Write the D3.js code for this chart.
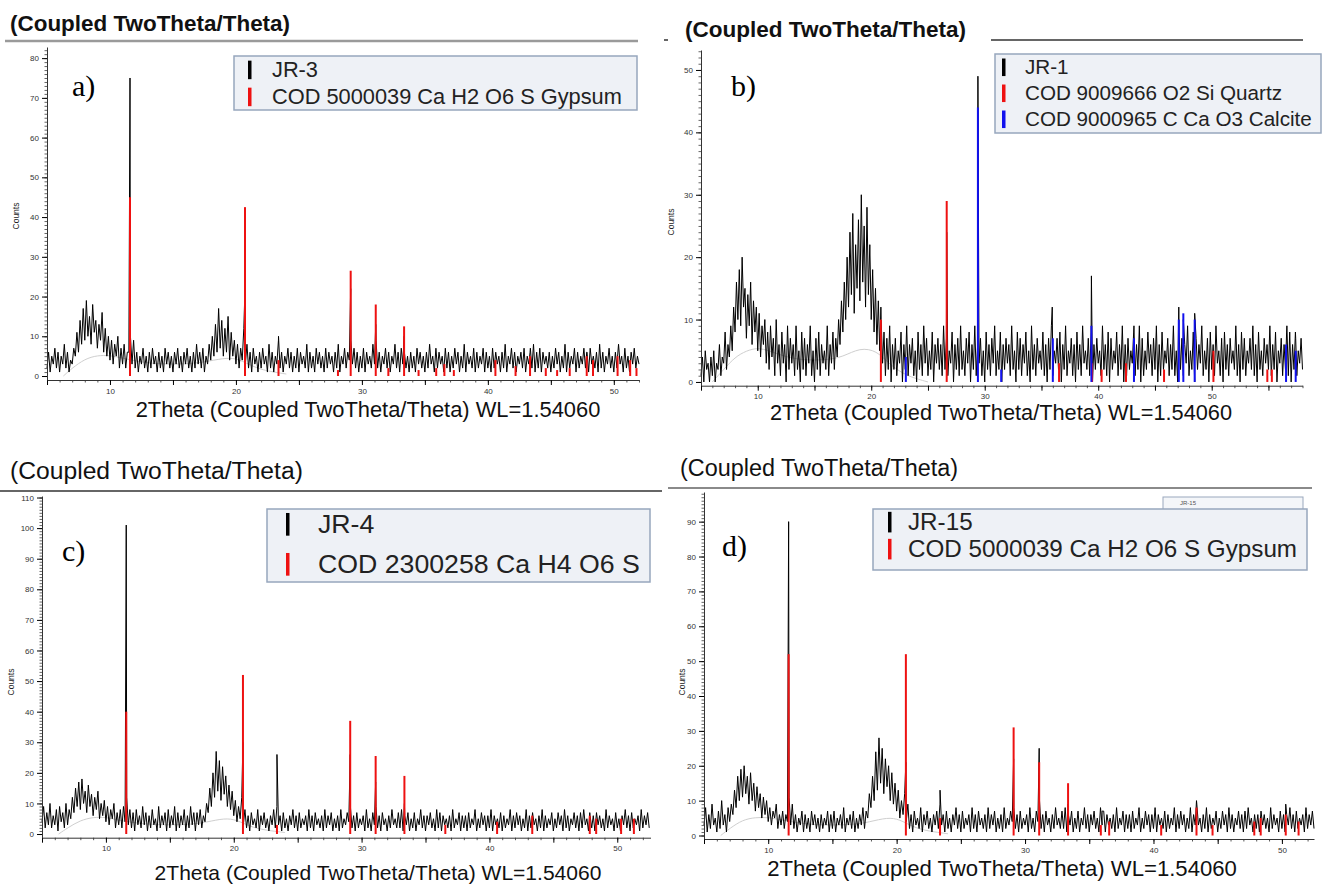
<!DOCTYPE html>
<html>
<head>
<meta charset="utf-8">
<script src="https://cdn.jsdelivr.net/npm/d3@7"></script>
<style>
body { margin: 0; background: #fff; }
svg { display: block; font-family: "Liberation Sans", Arial, sans-serif; }
</style>
</head>
<body>
<svg width="1329" height="886"></svg>
<script>
// step of the measured profiles (degrees 2theta); each row below is one degree
const step = 0.125;

// JR-3 measured counts, 5.000 .. 52.000
const jr3Counts = [
  2,6,1,5,3,7,2,6, 1,5,3,8,2,6,1,4, 3,7,5,11,6,14,8,17, 9,19,10,15,8,18,11,14,
  7,13,9,16,6,12,5,10, 4,9,3,8,5,10,2,7, 3,8,2,6,6,10,3,9, 2,6,1,5,3,7,2,5,
  1,6,2,7,3,5,1,6, 2,5,1,7,3,6,2,5, 1,6,3,7,2,5,1,6, 3,7,2,5,1,6,2,8,
  3,6,2,7,1,5,3,8, 4,10,5,13,6,17,7,14, 5,12,6,15,4,11,5,9, 3,8,2,7,4,12,3,8,
  2,6,1,7,3,5,1,6, 2,7,3,5,1,8,2,6, 1,5,3,9,2,6,1,5, 3,7,2,6,1,5,2,7,
  1,6,3,5,2,8,1,6, 2,5,1,7,3,6,2,5, 1,7,2,6,3,5,1,6, 2,8,1,5,3,7,2,6,
  4,9,3,7,2,6,1,5, 2,7,1,6,3,5,2,8, 3,9,2,6,1,5,3,7, 2,6,1,5,3,8,2,6,
  1,7,3,6,2,5,1,6, 2,5,1,7,3,6,2,5, 1,6,2,8,3,5,1,7, 2,6,3,5,1,7,2,6,
  1,5,2,7,3,6,1,5, 2,8,1,6,3,5,2,7, 1,6,2,5,3,7,1,6, 2,5,1,7,2,6,3,5,
  1,6,2,8,1,5,3,7, 2,6,1,5,3,6,2,7, 1,5,3,7,2,8,1,6, 2,7,1,6,3,5,2,6,
  1,5,2,7,3,6,1,5, 2,8,1,6,2,5,3,7, 1,6,2,5,3,7,2,6, 1,7,3,5,2,6,1,8,
  2,6,1,5,3,7,2,5, 1,6,2,8,3,5,1,7, 2,5,1,6,3,7,2,5, 3
];
const jr3Peaks = [[11.59,75],[20.72,22],[23.38,10],[29.11,22],[31.1,13],[33.35,10],[43.35,6],[47.85,6],[50.3,5]];
const gypsumA = [[11.59,45],[20.72,42.5],[23.38,4],[28.1,1.5],[29.11,26.5],[31.1,18],[32.1,2],[33.35,12.5],[34.5,1.5],
  [35.9,2],[36.55,3],[37.3,1.5],[40.6,4],[42.2,2.5],[43.35,5],[44.6,2],[45.5,1.5],[46.5,2],[47.85,5],[48.35,4],[50.3,5],[51.3,4],[51.8,2]];
const amorphA = [[6.3,0],[7,2],[8,4.3],[9,5.2],[10,5.2],[11,4.5],[12.5,3.5],[14,3],[16,3],[17.5,3.5],[19,4.5],[20,4.5],[21,3],[22,1.5],[24,0.5]];

// JR-1 measured counts, 5.000 .. 58.000
const jr1Counts = [
  1,4,0,5,2,3,0,4, 1,5,0,3,2,6,1,4, 3,8,2,6,4,9,5,12, 8,16,10,18,9,20,12,15,
  7,14,9,16,6,13,8,12, 5,11,4,9,6,10,3,8, 2,9,4,7,1,10,3,6, 1,8,3,6,0,9,2,7,
  3,6,1,9,2,5,0,8, 2,7,1,6,3,9,1,5, 0,7,2,8,1,6,3,5, 2,9,1,6,3,8,2,7,
  4,10,6,13,8,16,10,20, 12,24,14,27,11,22,15,26, 13,30,16,25,12,28,14,22, 10,18,8,15,6,13,5,10,
  3,8,1,7,2,9,0,6, 2,7,1,5,3,8,0,6, 2,9,1,6,3,7,1,5, 0,8,2,6,1,9,3,7,
  1,5,2,8,0,6,3,7, 2,6,1,9,2,7,1,5, 3,8,0,6,2,7,1,9, 2,5,1,7,3,8,0,6,
  2,9,1,6,3,7,1,5, 0,8,2,6,1,7,3,9, 1,5,2,8,0,6,2,7, 3,6,1,9,2,5,0,8,
  2,7,1,6,3,8,1,5, 0,9,2,6,1,7,3,5, 2,8,1,6,0,7,2,9, 1,5,3,7,2,8,0,6,
  2,9,1,5,3,7,1,6, 0,8,2,6,1,9,3,5, 2,7,1,8,0,6,2,7, 3,5,1,9,2,6,1,8,
  0,7,2,5,3,8,1,6, 2,9,0,6,1,7,2,5, 3,8,1,6,2,9,0,7, 1,5,2,8,3,6,1,7,
  2,9,0,6,1,8,2,5, 3,7,1,6,2,9,1,5, 0,8,2,7,1,6,3,9, 1,5,2,8,0,7,2,6,
  3,9,1,5,2,7,0,8, 2,6,1,9,3,5,1,7, 0,8,2,6,1,7,3,5, 2,9,1,6,0,8,2,7,
  1,5,3,7,2,9,1,6, 0,8,2,5,1,7,3,6, 2,9,1,6,2,8,0,5, 3,7,1,6,2,9,1,8,
  0,6,2,8,1,5,3,7, 2
];
const jr1Peaks = [[20.85,12],[26.65,24],[29.4,49],[35.95,12],[39.4,17],[43.15,9],[47.1,12],[47.5,10],[48.5,11],[56.6,8],[57.4,7]];
const quartzB = [[20.85,10],[26.65,29],[36.55,3],[39.45,3],[40.3,2],[42.45,3],[45.8,2],[50.15,5],[54.9,2],[55.3,2]];
const calciteB = [[23.05,4],[29.4,44],[31.45,2],[36.0,7],[39.4,9],[43.15,7],[47.1,10],[47.5,11],[48.5,10],[56.55,6],[57.4,5]];
const amorphB = [[6,0],[7,2],[8,4],[9,5],[10,5.5],[11,5],[12.5,4],[14,3.5],[16,3.5],[17.5,4],[19,5.5],[20.5,5],[21.5,3],[23,1],[25,0]];

// JR-4 measured counts, 5.000 .. 52.500
const jr4Counts = [
  4,9,2,7,3,10,2,6, 3,8,1,9,4,7,2,10, 3,8,5,12,7,15,9,17, 8,18,10,14,7,16,9,13,
  6,12,8,14,5,10,6,11, 4,9,3,8,5,10,2,7, 3,8,2,9,4,12,3,8, 2,7,1,8,3,6,2,9,
  3,7,1,6,2,8,3,5, 1,9,2,6,3,7,1,8, 2,6,3,9,1,7,2,6, 3,8,1,6,2,9,3,7,
  1,7,3,8,2,6,4,10, 7,15,9,20,12,27,14,24, 11,22,13,19,9,16,8,14, 6,11,4,9,5,12,3,8,
  2,6,1,7,3,5,2,8, 1,6,3,7,2,5,1,6, 3,8,2,9,3,6,1,7, 2,5,1,6,3,8,2,6,
  1,7,2,5,3,6,1,8, 2,6,1,7,3,5,2,6, 1,8,2,6,3,7,1,5, 2,6,1,8,2,5,3,7,
  4,9,2,6,1,7,2,5, 3,6,1,8,2,5,1,7, 3,9,2,6,1,7,3,5, 1,6,2,8,3,5,2,7,
  2,8,1,6,3,7,1,5, 2,7,1,5,3,8,2,6, 1,6,3,7,2,5,1,8, 2,7,1,6,3,5,2,6,
  1,8,2,5,3,7,1,6, 2,6,1,7,2,5,3,8, 1,5,2,7,3,6,1,6, 2,8,1,6,3,5,2,7,
  1,6,2,5,3,8,1,6, 2,7,3,6,1,5,2,8, 1,6,2,7,3,5,1,6, 2,8,1,6,2,5,3,7,
  1,5,2,7,3,6,1,8, 2,6,1,5,3,7,2,6, 1,7,2,8,3,5,1,6, 2,6,1,7,3,6,2,5,
  1,8,2,6,3,5,1,7, 2,5,1,6,3,8,2,6, 1,7,2,5,3,6,1,8, 2,6,3,7,2
];
const jr4Peaks = [[11.59,101],[20.72,30],[23.38,26],[29.11,26],[31.1,17],[33.35,10],[43.35,6],[47.85,7]];
const bassaniteC = [[11.59,40],[20.72,52],[23.38,3],[29.11,37],[31.1,25.5],[33.35,19],[36.55,3],[40.6,4],[43.35,6],[47.85,6],[48.35,5],[50.3,5],[51.3,5]];
const amorphC = [[6.3,0],[7,2],[8,4.5],[9,5.5],[10,5.5],[11,4.5],[12.5,3.5],[14,3],[16,3],[17.5,3.5],[19,5],[20,5],[21,3],[22,1.5],[24,0.5]];

// JR-15 measured counts, 5.000 .. 52.500
const jr15Counts = [
  3,8,1,6,2,9,3,5, 1,7,2,10,3,6,1,8, 4,9,6,13,8,17,10,19, 11,20,12,17,9,18,10,15,
  7,14,8,12,5,11,6,10, 4,8,3,7,5,9,2,6, 3,7,2,6,4,11,3,9, 2,6,1,5,3,7,1,6,
  2,5,1,7,3,6,2,5, 1,6,2,5,3,7,1,6, 2,7,1,5,3,6,2,8, 1,5,3,6,2,7,1,5,
  2,6,3,8,2,7,5,12, 8,17,10,24,13,28,15,25, 12,22,14,20,10,18,9,15, 7,13,5,10,6,12,4,9,
  2,6,1,7,3,5,2,8, 1,6,3,7,2,5,1,6, 3,7,2,9,3,6,1,7, 2,5,1,6,3,8,2,6,
  1,7,2,5,3,6,1,8, 2,6,1,7,3,5,2,6, 1,8,2,6,3,7,1,5, 2,6,1,8,2,5,3,7,
  4,8,2,6,1,7,2,5, 3,6,1,8,2,5,1,7, 4,10,2,6,1,7,3,5, 1,6,2,8,3,5,2,7,
  2,8,1,6,3,7,1,5, 2,7,1,5,3,8,2,6, 1,6,3,7,2,5,1,8, 3,7,1,6,3,5,2,6,
  1,8,2,5,3,7,1,6, 2,6,1,7,2,5,3,8, 1,5,2,7,3,6,1,6, 2,8,1,6,3,5,2,7,
  1,6,2,5,3,8,1,6, 2,7,3,6,1,5,2,8, 1,6,3,9,3,5,1,6, 2,8,1,6,2,5,3,7,
  1,5,2,7,3,6,1,8, 2,6,1,5,3,7,2,6, 1,7,2,8,3,5,1,6, 2,6,1,7,3,6,2,5,
  1,8,2,6,3,5,1,7, 2,6,1,6,3,8,2,6, 1,7,2,5,3,6,1,8, 2,6,3,7,2
];
const jr15Peaks = [[11.59,90],[20.72,21],[23.38,13],[29.11,22],[31.1,25],[33.35,9],[36.0,7],[43.35,10],[50.3,9]];
const gypsumD = [[11.59,52],[20.72,52],[23.38,5],[29.11,31],[31.1,21],[33.35,15],[35.9,3],[36.55,4],[40.6,3],[43.35,8],[44.6,3],[47.85,4],[48.35,5],[50.3,6],[51.3,4]];
const amorphD = [[6.3,0],[7,2],[8,4.5],[9,5.2],[10,5.2],[11,4.5],[12.5,3.5],[14,3],[16,3],[17.5,3.5],[19,5],[20,5],[21,3],[22,1.5],[24,0.5]];

const legendA = ["JR-3", "COD 5000039 Ca H2 O6 S Gypsum"];
const legendB = ["JR-1", "COD 9009666 O2 Si Quartz", "COD 9000965 C Ca O3 Calcite"];
const legendC = ["JR-4", "COD 2300258 Ca H4 O6 S"];
const legendD = ["JR-15", "COD 5000039 Ca H2 O6 S Gypsum"];

const headTitle = "(Coupled TwoTheta/Theta)";
const xTitle = "2Theta (Coupled TwoTheta/Theta) WL=1.54060";
const RED = "#ee1111", BLUE = "#1111ee";

const svg = d3.select("svg");

// scale a text's font so it spans the given width
function fitText(sel, w) {
  const fs = parseFloat(sel.attr("font-size"));
  const len = sel.node().getComputedTextLength();
  sel.attr("font-size", (fs * w / len).toFixed(2));
  return sel;
}

// leftover marks of the original layout (drawn first, under the panels)
svg.append("line").attr("x1", 664).attr("x2", 668).attr("y1", 40).attr("y2", 40)
  .attr("stroke", "#333").attr("stroke-width", 1.5);
svg.append("rect").attr("x", 1163).attr("y", 497).attr("width", 140).attr("height", 14)
  .attr("fill", "#f4f6f9").attr("stroke", "#9aa8bd").attr("stroke-width", 1);
svg.append("text").attr("x", 1180).attr("y", 505).attr("font-size", 6).attr("fill", "#555").text("JR-15");

const panels = [
  { label: "a)", counts: jr3Counts, peaks: jr3Peaks, amorph: amorphA,
    sticks: [{ data: gypsumA, color: RED }], legend: legendA,
    xDom: [5, 52], left: 47, right: 639, yDom: [-1, 82.8], bottom: 380, top: 47,
    head: { x: 10, y: 31, w: 280, bold: true, line: [5, 638, 41], lc: "#9a9a9a", lw: 2.5 },
    box: { x: 234, y: 56, w: 403, h: 54, tx: 272, ty0: 77, dy: 27, tw: 350, mx: 248 },
    tag: { x: 72, y: 96 }, counts_: { x: 19, y: 216 }, xt: { cx: 368, y: 417, w: 465 } },
  { label: "b)", counts: jr1Counts, peaks: jr1Peaks, amorph: amorphB,
    sticks: [{ data: quartzB, color: RED }, { data: calciteB, color: BLUE }], legend: legendB,
    xDom: [5, 58], left: 701, right: 1302.5, yDom: [-0.6, 53.2], bottom: 385.7, top: 50,
    head: { x: 685, y: 37, w: 281, bold: true, line: [991, 1303, 40], lc: "#333", lw: 1.3 },
    box: { x: 995, y: 54, w: 326, h: 79, tx: 1025, ty0: 74, dy: 26, tw: 287, mx: 1002 },
    tag: { x: 731, y: 96 }, counts_: { x: 674, y: 222 }, xt: { cx: 1001, y: 420, w: 462 } },
  { label: "c)", counts: jr4Counts, peaks: jr4Peaks, amorph: amorphC,
    sticks: [{ data: bassaniteC, color: RED }], legend: legendC,
    xDom: [5, 52.6], left: 42, right: 650.5, yDom: [-1.2, 110.5], bottom: 837.7, top: 496,
    head: { x: 10, y: 479, w: 293, bold: false, line: [0, 662, 491], lc: "#333", lw: 1.5 },
    box: { x: 267, y: 509, w: 383, h: 73, tx: 318, ty0: 533, dy: 40, tw: 322, mx: 286 },
    tag: { x: 62, y: 561 }, counts_: { x: 14, y: 682 }, xt: { cx: 378, y: 880, w: 447 } },
  { label: "d)", counts: jr15Counts, peaks: jr15Peaks, amorph: amorphD,
    sticks: [{ data: gypsumD, color: RED }], legend: legendD,
    xDom: [5, 52.5], left: 704, right: 1314, yDom: [-1, 98.5], bottom: 839, top: 492,
    head: { x: 680, y: 476, w: 278, bold: false, line: [668, 1312, 488], lc: "#8a8a8a", lw: 2 },
    box: { x: 873, y: 509, w: 434, h: 61, tx: 908, ty0: 530, dy: 27, tw: 389, mx: 888 },
    tag: { x: 722, y: 556 }, counts_: { x: 685, y: 682 }, xt: { cx: 1002, y: 876, w: 470 } }
];

panels.forEach(p => {
  const g = svg.append("g");
  const x = d3.scaleLinear().domain(p.xDom).range([p.left, p.right]);
  const y = d3.scaleLinear().domain(p.yDom).range([p.bottom, p.top]);
  const line = d3.line().x(d => x(d[0])).y(d => y(d[1]));

  // header title and rule
  const h = g.append("text").attr("x", p.head.x).attr("y", p.head.y)
    .attr("font-size", 20).attr("font-weight", p.head.bold ? "bold" : "normal")
    .attr("fill", "#111").text(headTitle);
  fitText(h, p.head.w);
  g.append("line").attr("x1", p.head.line[0]).attr("x2", p.head.line[1])
    .attr("y1", p.head.line[2]).attr("y2", p.head.line[2])
    .attr("stroke", p.head.lc).attr("stroke-width", p.head.lw);

  // amorphous background fit
  g.append("path").datum(p.amorph)
    .attr("d", line.curve(d3.curveBasis)).attr("fill", "none")
    .attr("stroke", "#cfcfcf").attr("stroke-width", 1);
  line.curve(d3.curveLinear);

  // measured scan
  const pts = p.counts.map((v, i) => [p.xDom[0] + i * step, v])
    .concat(p.peaks).sort((a, b) => a[0] - b[0]);
  g.append("path").datum(pts).attr("d", line)
    .attr("fill", "none").attr("stroke", "#000").attr("stroke-width", 1);

  // reference sticks
  p.sticks.forEach(s => {
    g.append("g").selectAll("line").data(s.data).join("line")
      .attr("x1", d => x(d[0])).attr("x2", d => x(d[0]))
      .attr("y1", y(0)).attr("y2", d => y(d[1]))
      .attr("stroke", s.color).attr("stroke-width", 2);
  });

  // axes
  const xMinor = d3.range(Math.ceil(p.xDom[0]), p.xDom[1] + 0.001, 1);
  g.append("g").attr("transform", `translate(0,${p.bottom})`)
    .call(d3.axisBottom(x).tickValues(xMinor).tickSize(2.5).tickFormat("").tickSizeOuter(0))
    .call(a => a.select(".domain").remove())
    .call(a => a.selectAll("line").attr("stroke", "#555"));
  g.append("g").attr("transform", `translate(0,${p.bottom})`)
    .call(d3.axisBottom(x).tickValues(xMinor.filter(v => v % 5 === 0)).tickSize(5)
      .tickFormat(v => v % 10 === 0 ? v : "").tickSizeOuter(0))
    .call(a => a.select(".domain").attr("stroke", "#333"))
    .call(a => a.selectAll("text").attr("font-size", 8).attr("fill", "#333")
      .attr("font-family", "Liberation Sans, Arial, sans-serif"));

  const yMinor = d3.range(0, p.yDom[1], 1);
  g.append("g").attr("transform", `translate(${p.left},0)`)
    .call(d3.axisLeft(y).tickValues(yMinor).tickSize(2.5).tickFormat("").tickSizeOuter(0))
    .call(a => a.select(".domain").remove())
    .call(a => a.selectAll("line").attr("stroke", "#666"));
  g.append("g").attr("transform", `translate(${p.left},0)`)
    .call(d3.axisLeft(y).tickValues(yMinor.filter(v => v % 10 === 0)).tickSize(5).tickSizeOuter(0))
    .call(a => a.select(".domain").attr("stroke", "#333"))
    .call(a => a.selectAll("text").attr("font-size", 8).attr("fill", "#333")
      .attr("font-family", "Liberation Sans, Arial, sans-serif"));

  g.append("text").attr("transform", `translate(${p.counts_.x},${p.counts_.y}) rotate(-90)`)
    .attr("text-anchor", "middle").attr("font-size", 8.5).attr("fill", "#222").text("Counts");

  const xt = g.append("text").attr("x", p.xt.cx).attr("y", p.xt.y)
    .attr("text-anchor", "middle").attr("font-size", 19).attr("fill", "#111").text(xTitle);
  fitText(xt, p.xt.w);

  // panel tag
  g.append("text").attr("x", p.tag.x).attr("y", p.tag.y)
    .attr("font-family", "Liberation Serif, Times New Roman, serif")
    .attr("font-size", 30).attr("fill", "#000").text(p.label);

  // legend box
  const b = p.box;
  const lg = g.append("g");
  lg.append("rect").attr("x", b.x).attr("y", b.y).attr("width", b.w).attr("height", b.h)
    .attr("fill", "#eef1f6").attr("stroke", "#97a6bd").attr("stroke-width", 1.5);
  const colors = ["#000"].concat(p.sticks.map(s => s.color));
  const fontRef = lg.append("text").attr("font-size", 18).text(p.legend[p.legend.length - 1]);
  fitText(fontRef, b.tw);
  const fs = fontRef.attr("font-size");
  fontRef.remove();
  p.legend.forEach((t, i) => {
    const ty = b.ty0 + i * b.dy;
    lg.append("rect").attr("x", b.mx).attr("y", ty - fs * 0.75).attr("width", 3.5)
      .attr("height", fs * 0.85).attr("fill", colors[i]);
    lg.append("text").attr("x", b.tx).attr("y", ty).attr("font-size", fs)
      .attr("fill", "#222").text(t);
  });
});
</script>
</body>
</html>
